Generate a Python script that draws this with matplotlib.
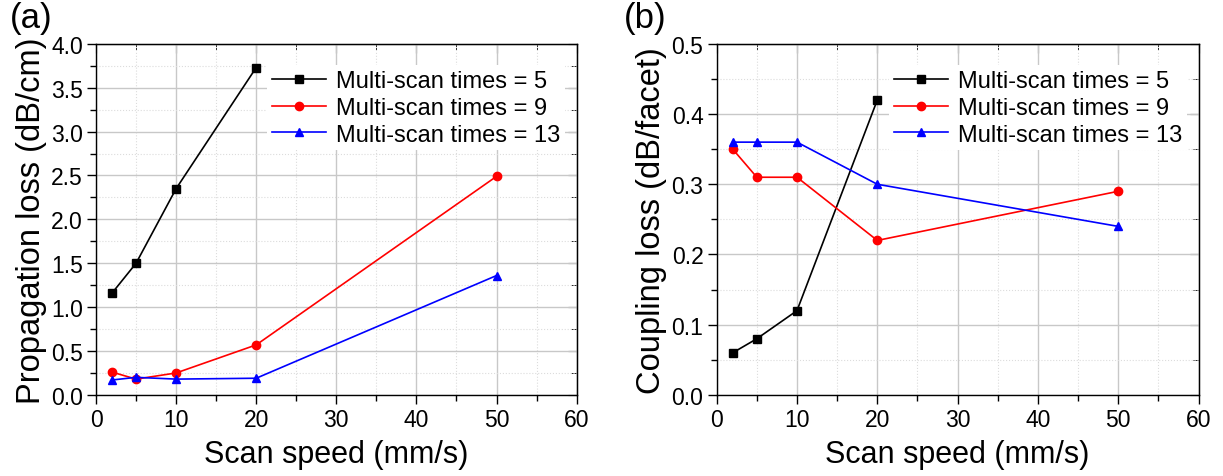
import numpy as np
import matplotlib.pyplot as plt
from matplotlib.ticker import MultipleLocator

plt.rcParams['font.family'] = ['Liberation Sans', 'DejaVu Sans']

# data
speed_5 = [2, 5, 10, 20]
speed = [2, 5, 10, 20, 50]
prop_5 = [1.16, 1.50, 2.35, 3.73]
prop_9 = [0.26, 0.18, 0.25, 0.57, 2.49]
prop_13 = [0.17, 0.20, 0.18, 0.19, 1.36]
coup_5 = [0.06, 0.08, 0.12, 0.42]
coup_9 = [0.35, 0.31, 0.31, 0.22, 0.29]
coup_13 = [0.36, 0.36, 0.36, 0.30, 0.24]
labels = ['Multi-scan times = 5', 'Multi-scan times = 9', 'Multi-scan times = 13']

fig = plt.figure(figsize=(12.23, 4.77), dpi=100)
ax1 = fig.add_axes([0.0785, 0.170, 0.393, 0.736])
ax2 = fig.add_axes([0.586, 0.170, 0.394, 0.736])


def style(ax, ymax, ymajor, yminor, ylabel):
    ax.set_xlim(0, 60)
    ax.set_ylim(0, ymax)
    for a in (ax.xaxis, ax.yaxis):
        pass
    ax.xaxis.set_major_locator(MultipleLocator(10))
    ax.xaxis.set_minor_locator(MultipleLocator(5))
    ax.yaxis.set_major_locator(MultipleLocator(ymajor))
    ax.yaxis.set_minor_locator(MultipleLocator(yminor))
    ax.yaxis.set_major_formatter(plt.FormatStrFormatter('%.1f'))
    ax.grid(which='major', color='#c8c8c8', lw=1.0)
    ax.grid(which='minor', color='#dcdcdc', lw=0.8, ls=':')
    ax.set_axisbelow(True)
    ax.tick_params(which='both', direction='out', labelsize=16.5, width=1.0, pad=3)
    ax.tick_params(which='major', length=6.5)
    ax.tick_params(which='minor', length=4.5)
    for s in ax.spines.values():
        s.set_linewidth(1.0)
    # inward ticks on top and right, no labels
    top = ax.secondary_xaxis('top')
    top.xaxis.set_major_locator(MultipleLocator(10))
    top.xaxis.set_minor_locator(MultipleLocator(5))
    top.tick_params(which='both', direction='in', labeltop=False)
    top.tick_params(which='major', length=6.5)
    top.tick_params(which='minor', length=4.5)
    right = ax.secondary_yaxis('right')
    right.yaxis.set_major_locator(MultipleLocator(ymajor))
    right.yaxis.set_minor_locator(MultipleLocator(yminor))
    right.tick_params(which='both', direction='in', labelright=False)
    right.tick_params(which='major', length=6.5)
    right.tick_params(which='minor', length=4.5)
    ax.set_xlabel('Scan speed (mm/s)', fontsize=22, labelpad=6)
    ax.set_ylabel(ylabel, fontsize=23.5, labelpad=3)


ax1.plot(speed_5, prop_5, 'k-s', lw=1.2, ms=6, label=labels[0])
ax1.plot(speed, prop_9, '-o', color='#ff0000', lw=1.2, ms=6, label=labels[1])
ax1.plot(speed, prop_13, '-^', color='#0000ff', lw=1.2, ms=6, label=labels[2])
style(ax1, 4.0, 0.5, 0.25, 'Propagation loss (dB/cm)')

ax2.plot(speed_5, coup_5, 'k-s', lw=1.2, ms=6, label=labels[0])
ax2.plot(speed, coup_9, '-o', color='#ff0000', lw=1.2, ms=6, label=labels[1])
ax2.plot(speed, coup_13, '-^', color='#0000ff', lw=1.2, ms=6, label=labels[2])
style(ax2, 0.5, 0.1, 0.05, 'Coupling loss (dB/facet)')

for ax in (ax1, ax2):
    leg = ax.legend(loc='upper right', fontsize=17, frameon=True, fancybox=False,
                    edgecolor='none', framealpha=1.0, handlelength=2.3,
                    borderpad=0.2, labelspacing=0.2, handletextpad=0.4,
                    bbox_to_anchor=(1.0, 0.972))

fig.text(0.008, 0.995, '(a)', fontsize=25, va='top', ha='left')
fig.text(0.510, 0.995, '(b)', fontsize=25, va='top', ha='left')

fig.savefig('out.png', dpi=100)
